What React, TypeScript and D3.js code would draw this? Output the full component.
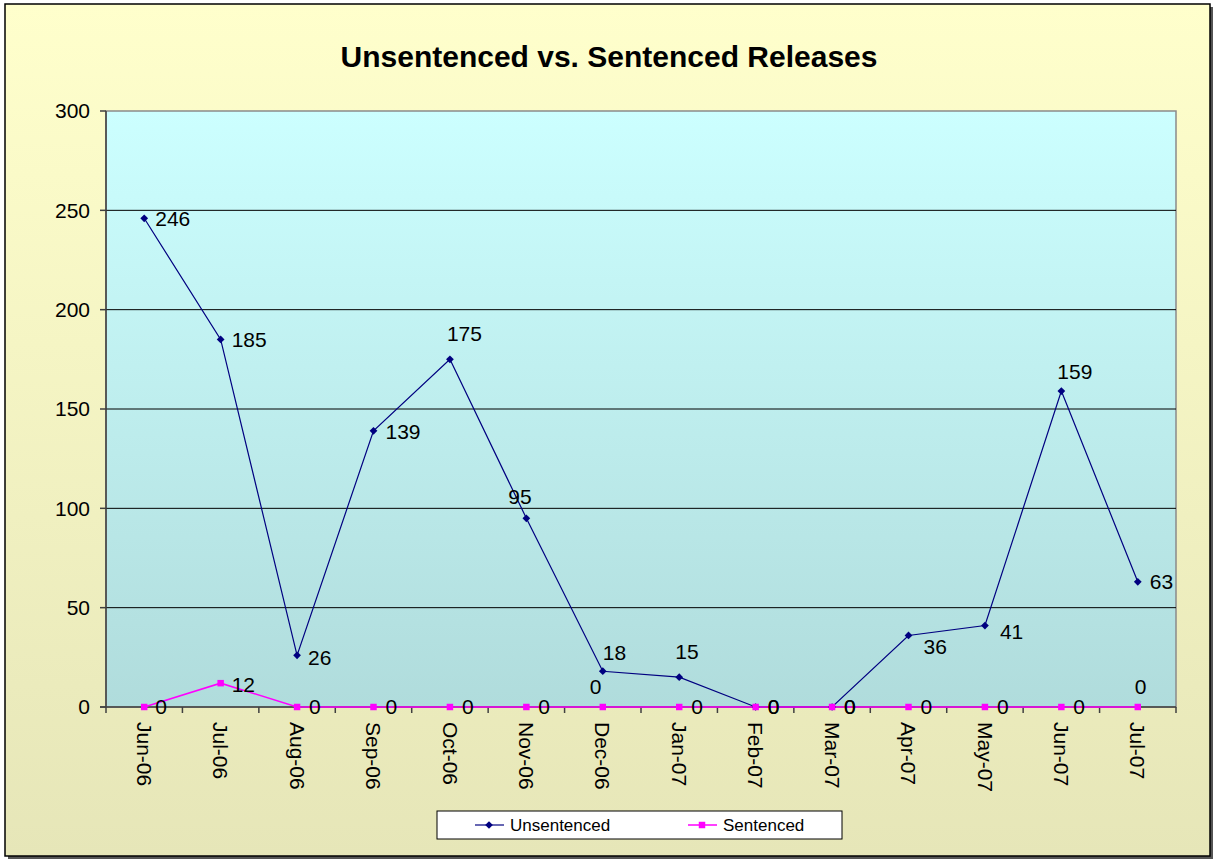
import React from 'react';
import * as d3 from 'd3';

const months = ['Jun-06', 'Jul-06', 'Aug-06', 'Sep-06', 'Oct-06', 'Nov-06', 'Dec-06', 'Jan-07', 'Feb-07', 'Mar-07', 'Apr-07', 'May-07', 'Jun-07', 'Jul-07'];
const unsentenced = [246, 185, 26, 139, 175, 95, 18, 15, 0, 0, 36, 41, 159, 63];
const sentenced = [0, 12, 0, 0, 0, 0, 0, 0, 0, 0, 0, 0, 0, 0];
const yTicks = [0, 50, 100, 150, 200, 250, 300];

// label nudges (px) relative to each point, as placed in the original chart
const unsentencedDx = [11, 11, 11, 12, -3, -18, 0, -4, 12, 12, 15, 15, -4, 12];
const unsentencedDy = [0, 0, 2, 1, -26, -22, -19, -26, 0, 0, 11, 6, -19, 0];
const sentencedDx = [11, 11, 12, 12, 12, 12, -13, 12, 12, 12, 12, 12, 12, -3];
const sentencedDy = [0, 1, 0, 0, 0, 0, -20, 0, 0, 0, 0, 0, 0, -20];

const W = 1214;
const H = 861;
const plot = { left: 106, top: 111, right: 1176, bottom: 707 };
const font = 'Arial, "Liberation Sans", sans-serif';

export default function App() {
  const x = d3.scaleBand().domain(months).range([plot.left, plot.right]);
  const y = d3.scaleLinear().domain([0, 300]).range([plot.bottom, plot.top]);
  const cx = (m: string) => (x(m) ?? 0) + x.bandwidth() / 2;

  const line = d3.line<number>()
    .x((_, i) => cx(months[i]))
    .y((d) => y(d));

  // excel-style diamond: a square turned 45 degrees
  const diamond = d3.symbol().type(d3.symbolSquare).size(30)();
  const square = d3.symbol().type(d3.symbolSquare).size(42)();

  const boundaries = months.map((m) => x(m) ?? 0).concat([plot.right]);

  return (
    <div style={{ position: 'fixed', left: 0, top: 0 }}>
      <svg width={W} height={H} style={{ display: 'block' }} fontFamily={font}>
        <defs>
          <linearGradient id="bg-grad" x1="0" x2="0" y1="0" y2="1">
            <stop offset="0%" stopColor="#FFFFCC" />
            <stop offset="100%" stopColor="#E6E6B8" />
          </linearGradient>
          <linearGradient id="plot-grad" x1="0" x2="0" y1="0" y2="1">
            <stop offset="0%" stopColor="#CCFFFF" />
            <stop offset="100%" stopColor="#B0DCDC" />
          </linearGradient>
        </defs>

        <rect x={0} y={0} width={W} height={H} fill="#fff" />
        {/* shadow and frame */}
        <rect x={8} y={7} width={1205} height={852} fill="#555" />
        <rect x={5} y={4} width={1205} height={852} fill="url(#bg-grad)" stroke="#000" strokeWidth={1.5} />

        <text x={609} y={67} textAnchor="middle" fontSize={30} fontWeight="bold" fill="#000">
          Unsentenced vs. Sentenced Releases
        </text>

        {/* plot area */}
        <rect x={plot.left} y={plot.top} width={plot.right - plot.left} height={plot.bottom - plot.top}
          fill="url(#plot-grad)" stroke="#8a8a8a" strokeWidth={1.5} />

        {yTicks.filter((t) => t > 0 && t < 300).map((t) => (
          <line key={t} x1={plot.left} x2={plot.right} y1={y(t)} y2={y(t)} stroke="#000" strokeWidth={1} />
        ))}

        {/* y axis */}
        <line x1={plot.left} x2={plot.left} y1={plot.top} y2={plot.bottom} stroke="#404040" strokeWidth={1.5} />
        {yTicks.map((t) => (
          <g key={t}>
            <line x1={plot.left - 6} x2={plot.left} y1={y(t)} y2={y(t)} stroke="#404040" strokeWidth={1.5} />
            <text x={plot.left - 16} y={y(t)} dy="0.35em" textAnchor="end" fontSize={21} fill="#000">{t}</text>
          </g>
        ))}

        {/* x axis */}
        <line x1={plot.left - 6} x2={plot.right} y1={plot.bottom} y2={plot.bottom} stroke="#404040" strokeWidth={1.5} />
        {boundaries.map((b, i) => (
          <line key={i} x1={b} x2={b} y1={plot.bottom} y2={plot.bottom + 6} stroke="#404040" strokeWidth={1.5} />
        ))}
        {months.map((m) => (
          <text key={m} transform={`translate(${cx(m)},${plot.bottom + 15}) rotate(90)`}
            dy="0.35em" textAnchor="start" fontSize={21} fill="#000">{m}</text>
        ))}

        {/* series */}
        <path d={line(unsentenced) ?? ''} fill="none" stroke="#000080" strokeWidth={1.2} />
        <path d={line(sentenced) ?? ''} fill="none" stroke="#FF00FF" strokeWidth={1.5} />
        {unsentenced.map((v, i) => (
          <path key={'u' + i} d={diamond ?? ''} transform={`translate(${cx(months[i])},${y(v)}) rotate(45)`} fill="#000080" />
        ))}
        {sentenced.map((v, i) => (
          <path key={'s' + i} d={square ?? ''} transform={`translate(${cx(months[i])},${y(v)})`} fill="#FF00FF" />
        ))}

        {/* data labels */}
        {unsentenced.map((v, i) => (
          <text key={'ul' + i} x={cx(months[i]) + unsentencedDx[i]} y={y(v) + unsentencedDy[i]}
            dy="0.35em" fontSize={21} fill="#000">{v}</text>
        ))}
        {sentenced.map((v, i) => (
          <text key={'sl' + i} x={cx(months[i]) + sentencedDx[i]} y={y(v) + sentencedDy[i]}
            dy="0.35em" fontSize={21} fill="#000">{v}</text>
        ))}

        {/* legend */}
        <rect x={437} y={811} width={405} height={28} fill="#fff" stroke="#000" strokeWidth={1} />
        <line x1={475} x2={504} y1={825} y2={825} stroke="#000080" strokeWidth={1.2} />
        <path d={diamond ?? ''} transform="translate(489,825) rotate(45)" fill="#000080" />
        <text x={510} y={825} dy="0.35em" fontSize={17} fill="#000">Unsentenced</text>
        <line x1={688} x2={717} y1={825} y2={825} stroke="#FF00FF" strokeWidth={1.5} />
        <path d={square ?? ''} transform="translate(702,825)" fill="#FF00FF" />
        <text x={723} y={825} dy="0.35em" fontSize={17} fill="#000">Sentenced</text>
      </svg>
    </div>
  );
}
